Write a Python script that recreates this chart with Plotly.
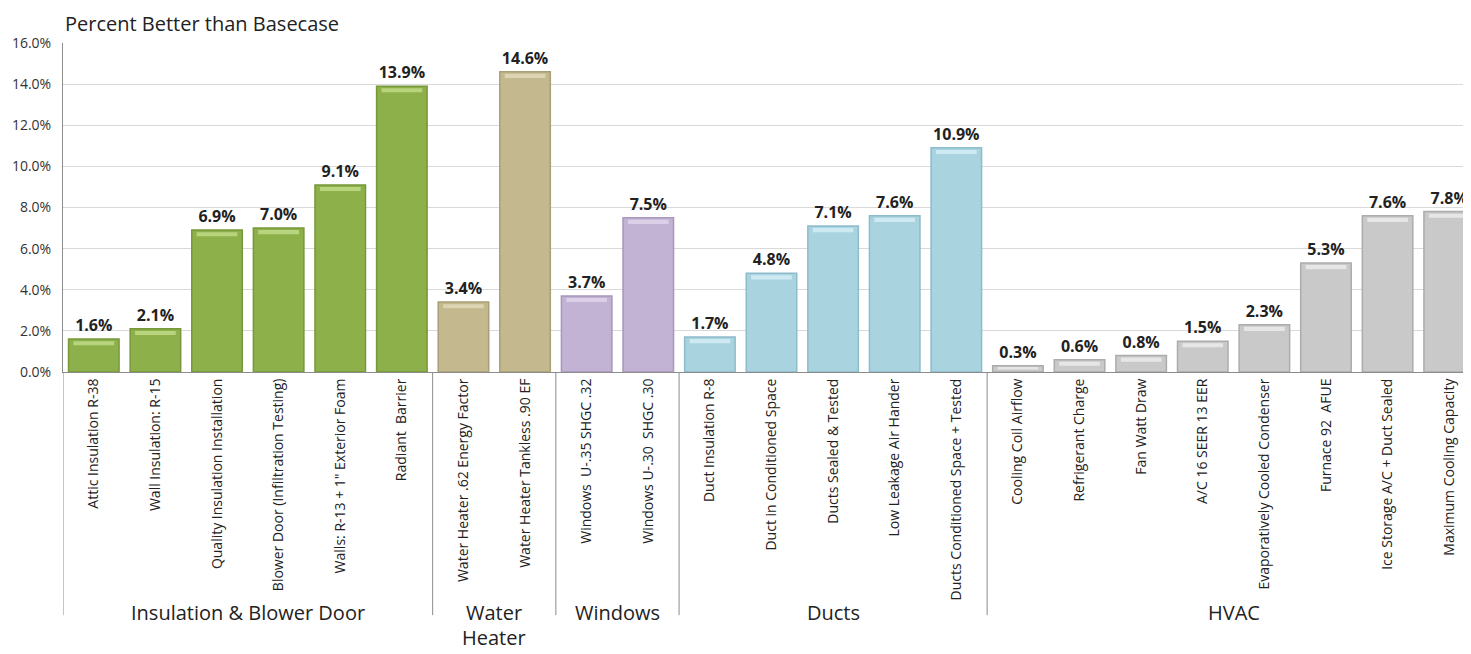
import plotly.graph_objects as go

categories = [
    "Attic Insulation R-38", "Wall Insulation: R-15", "Quality Insulation Installation",
    "Blower Door (Infiltration Testing)", "Walls: R-13 + 1\" Exterior Foam", "Radiant  Barrier",
    "Water Heater .62 Energy Factor", "Water Heater Tankless .90 EF",
    "Windows  U-.35 SHGC .32", "Windows U-.30  SHGC .30",
    "Duct Insulation R-8", "Duct in Conditioned Space", "Ducts Sealed & Tested",
    "Low Leakage Air Hander", "Ducts Conditioned Space + Tested",
    "Cooling Coil Airflow", "Refrigerant Charge", "Fan Watt Draw", "A/C 16 SEER 13 EER",
    "Evaporatively Cooled Condenser", "Furnace 92  AFUE", "Ice Storage A/C + Duct Sealed",
    "Maximum Cooling Capacity",
]
values = [1.6, 2.1, 6.9, 7.0, 9.1, 13.9,
          3.4, 14.6,
          3.7, 7.5,
          1.7, 4.8, 7.1, 7.6, 10.9,
          0.3, 0.6, 0.8, 1.5, 2.3, 5.3, 7.6, 7.8]
groups = [["Insulation & Blower Door"], ["Water", "Heater"], ["Windows"], ["Ducts"], ["HVAC"]]
group_sizes = [6, 2, 2, 5, 8]
group_colors = ["#8db04a", "#c3b88e", "#c2b3d4", "#a9d3df", "#c9c9c9"]
group_lines = ["#76983a", "#a89f78", "#a797bb", "#8dbccb", "#acacac"]
group_highlights = ["#b9d47e", "#dcd4b2", "#dbd0e8", "#cdeaf2", "#e6e6e6"]

colors, lines, highs = [], [], []
for c, l, h, n in zip(group_colors, group_lines, group_highlights, group_sizes):
    colors += [c] * n
    lines += [l] * n
    highs += [h] * n

x_idx = list(range(len(categories)))
FONT = "Open Sans"

fig = go.Figure()
fig.add_trace(go.Bar(
    x=x_idx, y=values,
    marker=dict(color=colors, line=dict(color=lines, width=1.5)),
    width=0.82,
    text=[f"{v:.1f}%" for v in values],
    textposition="outside",
    textfont=dict(family=FONT, size=16, color="#222222", weight="bold"),
    cliponaxis=False,
    hoverinfo="skip",
))
# bevel highlight near the top of each bar
fig.add_trace(go.Bar(
    x=x_idx, y=[min(0.2, v * 0.4) for v in values],
    base=[v - min(0.3, v * 0.6) for v in values],
    marker=dict(color=highs, line=dict(width=0)),
    width=0.66,
    hoverinfo="skip",
))

shapes = []
annotations = []
start = 0
bounds = [-0.5]
for g, n in zip(groups, group_sizes):
    end = start + n
    bounds.append(end - 0.5)
    xc = (start + end - 1) / 2
    annotations.append(dict(
        x=xc, y=-0.685, xref="x", yref="paper",
        text=g[0], showarrow=False, yanchor="top",
        font=dict(family=FONT, size=20, color="#222222"),
    ))
    if len(g) > 1:
        annotations.append(dict(
            x=xc, y=-282 / 329, xref="x", yref="paper", yshift=1,
            text=g[1], showarrow=False, yanchor="bottom",
            font=dict(family=FONT, size=20, color="#222222"),
        ))
    start = end
for b in bounds[:-1]:
    shapes.append(dict(type="line", xref="x", yref="paper", x0=b, x1=b, y0=0, y1=-0.739,
                       line=dict(color="#8c8c8c", width=1)))

annotations.append(dict(
    x=0, y=1.0, xref="paper", yref="paper", xanchor="left", yanchor="bottom",
    yshift=4, text="Percent Better than Basecase", showarrow=False,
    font=dict(family=FONT, size=20, color="#222222"),
))

fig.update_layout(
    width=1463, height=646,
    margin=dict(l=55, r=0, t=35, b=282),
    paper_bgcolor="white", plot_bgcolor="white",
    showlegend=False, barmode="overlay",
    shapes=shapes, annotations=annotations,
    xaxis=dict(
        tickmode="array", tickvals=x_idx, ticktext=categories,
        tickangle=-90, tickfont=dict(family=FONT, size=14, color="#222222"),
        range=[-0.5, len(categories) - 0.646],
        showline=True, linecolor="#8c8c8c", linewidth=1, ticks="",
        showgrid=False,
    ),
    yaxis=dict(
        range=[0, 16], dtick=2, tickformat=".1f", ticksuffix="%",
        tickfont=dict(family=FONT, size=14, color="#333333"),
        ticklabelstandoff=8,
        showgrid=True, gridcolor="#d9d9d9", gridwidth=1,
        showline=True, linecolor="#8c8c8c", linewidth=1,
        zeroline=False, ticks="",
    ),
)

fig.write_html("out.html")
